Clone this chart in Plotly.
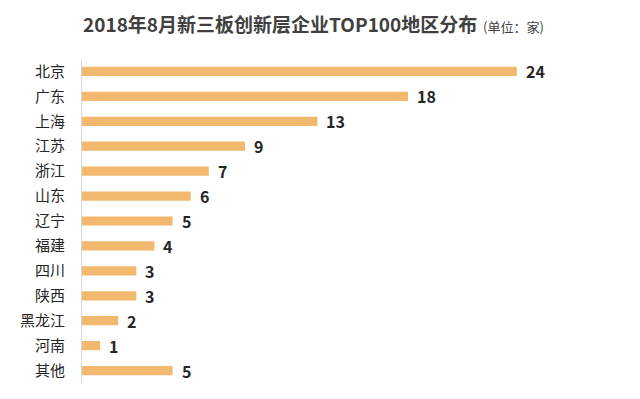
import plotly.graph_objects as go

regions = ["北京", "广东", "上海", "江苏", "浙江", "山东", "辽宁", "福建", "四川", "陕西", "黑龙江", "河南", "其他"]
counts = [24, 18, 13, 9, 7, 6, 5, 4, 3, 3, 2, 1, 5]
title_main = "2018年8月新三板创新层企业TOP100地区分布"
title_unit = "(单位：家)"

font_family = "Noto Sans CJK SC, Noto Sans, sans-serif"

fig = go.Figure()
fig.add_trace(go.Bar(
    y=regions,
    x=counts,
    orientation="h",
    marker=dict(color="#F2B96E", line=dict(width=0)),
    width=0.37,
    hoverinfo="skip",
))

for r, c in zip(regions, counts):
    fig.add_annotation(
        x=c, y=r, xref="x", yref="y",
        text=f"<b>{c}</b>", showarrow=False,
        xanchor="left", yanchor="middle", xshift=7,
        font=dict(size=16, color="#262626", family=font_family),
    )

fig.update_layout(
    width=640, height=399,
    margin=dict(l=82, r=20, t=59, b=16, autoexpand=False),
    paper_bgcolor="white", plot_bgcolor="white",
    showlegend=False,
    title=dict(
        text=f"<b>{title_main}</b><span style='font-size:13px'>  {title_unit}</span>",
        x=83 / 640, xanchor="left", y=1 - 25 / 399, yanchor="middle",
        font=dict(size=19, color="#404040", family=font_family),
    ),
    xaxis=dict(range=[0, 29.7], visible=False, fixedrange=True, automargin=False),
    yaxis=dict(
        autorange=False, range=[12.5, -0.5], automargin=False, fixedrange=True,
        showline=True, linecolor="#D9D9D9", linewidth=1,
        showgrid=False, ticks="", ticklabelstandoff=13,
        tickfont=dict(size=15, color="#262626", family=font_family),
    ),
    font=dict(family=font_family),
)

fig.write_html("out.html", config={"displayModeBar": False},
               post_script="document.body.style.margin='0';")
